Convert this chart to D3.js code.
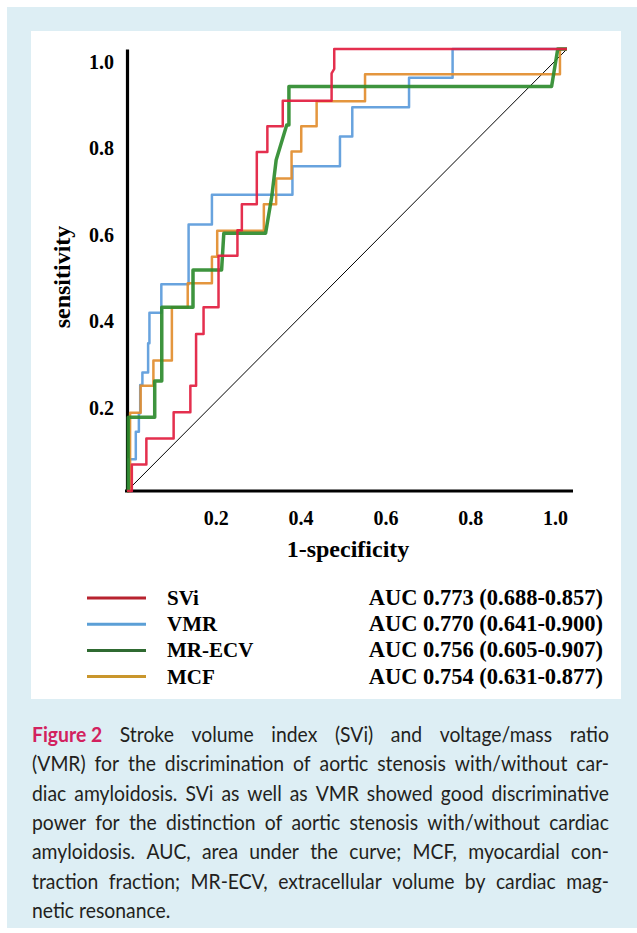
<!DOCTYPE html>
<html>
<head>
<meta charset="utf-8">
<script src="https://cdn.jsdelivr.net/npm/d3@7"></script>
<style>
body { margin: 0; background: #fff; }
svg { display: block; }
.serif { font-family: "Liberation Serif", "Times New Roman", serif; font-weight: bold; fill: #000; }
</style>
</head>
<body>
<svg id="canvas" width="637" height="933"></svg>
<script>
// ROC vertices (1-specificity, sensitivity)
var sviFpr = [0, 0.011, 0.011, 0.044, 0.044, 0.106, 0.106, 0.144, 0.144, 0.157, 0.157, 0.174, 0.174, 0.208, 0.208, 0.251, 0.251, 0.261, 0.261, 0.295, 0.295, 0.319, 0.319, 0.354, 0.354, 0.465, 0.465, 0.471, 0.471, 1];
var sviTpr = [0, 0, 0.060, 0.060, 0.119, 0.119, 0.178, 0.178, 0.238, 0.238, 0.355, 0.355, 0.416, 0.416, 0.532, 0.532, 0.590, 0.590, 0.649, 0.649, 0.767, 0.767, 0.825, 0.825, 0.883, 0.883, 0.945, 0.955, 1, 1];

var vmrFpr = [0, 0.004, 0.004, 0.020, 0.020, 0.027, 0.027, 0.030, 0.030, 0.035, 0.035, 0.048, 0.048, 0.051, 0.051, 0.078, 0.078, 0.140, 0.140, 0.193, 0.193, 0.376, 0.376, 0.484, 0.484, 0.512, 0.512, 0.641, 0.641, 0.740, 0.740, 1];
var vmrTpr = [0, 0, 0.072, 0.072, 0.134, 0.134, 0.176, 0.176, 0.240, 0.240, 0.268, 0.268, 0.334, 0.334, 0.403, 0.403, 0.468, 0.468, 0.603, 0.603, 0.670, 0.670, 0.735, 0.735, 0.802, 0.802, 0.868, 0.868, 0.935, 0.935, 1, 1];

var ecvFpr = [0, 0.003, 0.003, 0.063, 0.063, 0.079, 0.079, 0.150, 0.150, 0.215, 0.220, 0.315, 0.329, 0.339, 0.363, 0.368, 0.368, 0.965, 0.979, 1];
var ecvTpr = [0, 0, 0.167, 0.167, 0.249, 0.249, 0.416, 0.416, 0.500, 0.500, 0.583, 0.583, 0.666, 0.749, 0.828, 0.828, 0.915, 0.915, 1, 1];

var mcfFpr = [0, 0.007, 0.007, 0.031, 0.031, 0.060, 0.060, 0.102, 0.102, 0.138, 0.138, 0.193, 0.193, 0.205, 0.205, 0.311, 0.311, 0.339, 0.339, 0.374, 0.374, 0.396, 0.396, 0.431, 0.431, 0.541, 0.541, 0.984, 0.984, 1];
var mcfTpr = [0, 0, 0.177, 0.177, 0.238, 0.238, 0.295, 0.295, 0.416, 0.416, 0.470, 0.470, 0.530, 0.530, 0.589, 0.589, 0.649, 0.649, 0.707, 0.707, 0.768, 0.768, 0.825, 0.825, 0.882, 0.882, 0.943, 0.943, 1, 1];

var seriesNames = ["SVi", "VMR", "MR-ECV", "MCF"];
var aucLabels = ["AUC 0.773 (0.688-0.857)", "AUC 0.770 (0.641-0.900)", "AUC 0.756 (0.605-0.907)", "AUC 0.754 (0.631-0.877)"];
var xTicks = [0.2, 0.4, 0.6, 0.8, 1.0];
var yTicks = [0.2, 0.4, 0.6, 0.8, 1.0];

var captionLead = "Figure 2";
var captionLines = [
    "Stroke volume index (SVi) and voltage/mass ratio",
    "(VMR) for the discrimination of aortic stenosis with/without car-",
    "diac amyloidosis. SVi as well as VMR showed good discriminative",
    "power for the distinction of aortic stenosis with/without cardiac",
    "amyloidosis. AUC, area under the curve; MCF, myocardial con-",
    "traction fraction; MR-ECV, extracellular volume by cardiac mag-",
    "netic resonance."
];

var lineColors = ["#e21d3f", "#5b9bdb", "#2e8b2e", "#e28d2e"];
var legendColors = ["#b8232f", "#5b9fd6", "#2f6a31", "#c9962c"];
var lineWidths = [2.5, 2.5, 3.5, 2.5];

var svg = d3.select("#canvas");

// backgrounds
svg.append("rect").attr("x", 7).attr("y", 7).attr("width", 630).attr("height", 921).attr("fill", "#ddeef4");
svg.append("rect").attr("x", 31).attr("y", 31).attr("width", 590).attr("height", 668).attr("fill", "#fff");

var x = d3.scaleLinear().domain([0, 1]).range([127, 567]);
var y = d3.scaleLinear().domain([0, 1]).range([491, 49]);
// tick labels in the figure sit on their own spacing
var xLab = d3.scaleLinear().domain([0, 1]).range([131, 555]);
var yLab = d3.scaleLinear().domain([0, 1]).range([494, 62]);

// axis lines
svg.append("g")
    .attr("transform", "translate(0,491)")
    .call(d3.axisBottom(x).tickValues([]).tickSizeOuter(0))
    .select(".domain").attr("stroke", "#000").attr("stroke-width", 3.2)
    .attr("d", "M" + (x(0) - 2) + ",0H" + (x(1) + 6));

svg.append("g")
    .attr("transform", "translate(127,0)")
    .call(d3.axisLeft(y).tickValues([]).tickSizeOuter(0))
    .select(".domain").attr("stroke", "#000").attr("stroke-width", 3.2);

// tick labels
var gx = svg.append("g")
    .attr("transform", "translate(0,491)")
    .call(d3.axisBottom(xLab).tickValues(xTicks).tickFormat(d3.format(".1f")).tickSize(0).tickPadding(20));
gx.select(".domain").remove();
gx.selectAll("text").attr("class", "serif").style("font-size", "20px");

var gy = svg.append("g")
    .attr("transform", "translate(127,0)")
    .call(d3.axisLeft(yLab).tickValues(yTicks).tickFormat(d3.format(".1f")).tickSize(0).tickPadding(13));
gy.select(".domain").remove();
gy.selectAll("text").attr("class", "serif").style("font-size", "20px");

svg.append("text")
    .attr("class", "serif")
    .attr("x", 348).attr("y", 557)
    .attr("text-anchor", "middle")
    .style("font-size", "24px")
    .text("1-specificity");

svg.append("text")
    .attr("class", "serif")
    .attr("transform", "translate(70,277) rotate(-90)")
    .attr("text-anchor", "middle")
    .style("font-size", "24px")
    .text("sensitivity");

// reference diagonal
svg.append("line")
    .attr("x1", x(0)).attr("y1", y(0))
    .attr("x2", x(1)).attr("y2", y(1))
    .attr("stroke", "#000").attr("stroke-width", 1);

// ROC curves
var curves = [
    {fpr: sviFpr, tpr: sviTpr},
    {fpr: vmrFpr, tpr: vmrTpr},
    {fpr: ecvFpr, tpr: ecvTpr},
    {fpr: mcfFpr, tpr: mcfTpr}
];

var roc = d3.line()
    .x(function(d) { return x(d[0]); })
    .y(function(d) { return y(d[1]); });

// draw order: VMR, MCF, MR-ECV, SVi
[1, 3, 2, 0].forEach(function(i) {
    var pts = d3.zip(curves[i].fpr, curves[i].tpr);
    svg.append("path")
        .attr("d", roc(pts))
        .attr("fill", "none")
        .attr("stroke", lineColors[i])
        .attr("stroke-width", lineWidths[i])
        .attr("stroke-linejoin", "round")
        .attr("stroke-opacity", 0.92);
});

// legend
var legend = svg.append("g");
seriesNames.forEach(function(name, i) {
    var ly = 598 + i * 26.2;
    legend.append("line")
        .attr("x1", 87).attr("x2", 146)
        .attr("y1", ly).attr("y2", ly)
        .attr("stroke", legendColors[i]).attr("stroke-width", 3);
    legend.append("text")
        .attr("class", "serif")
        .attr("x", 167).attr("y", ly + 7)
        .style("font-size", "21px")
        .text(name);
    legend.append("text")
        .attr("class", "serif")
        .attr("x", 603).attr("y", ly + 7)
        .attr("text-anchor", "end")
        .style("font-size", "22.5px")
        .text(aucLabels[i]);
});

// caption, justified word by word; glyphs narrowed a little to mimic the journal face
var capLeft = 32, capRight = 609, capFont = "Lato, 'Open Sans', sans-serif", capScale = 0.9;
var probe = svg.append("text").attr("x", -999).attr("y", -999).style("font-family", capFont);
function measure(str, weight, size) {
    probe.style("font-weight", weight).style("font-size", size + "px").text(str);
    return probe.node().getComputedTextLength() * capScale;
}
var natural = captionLines.slice(0, -1).map(function(line, i) {
    var s = (i === 0 ? captionLead + " " : "") + line;
    return measure(s, "normal", 20);
});
var capSize = Math.min(21.5, 20 * (capRight - capLeft) / d3.max(natural));

var cap = svg.append("g").style("font-family", capFont).style("font-size", capSize + "px");
captionLines.forEach(function(line, i) {
    var words = line.split(" ");
    var items = words.map(function(w) { return {t: w, lead: false}; });
    if (i === 0) items.unshift({t: captionLead, lead: true});
    items.forEach(function(it) { it.w = measure(it.t, it.lead ? "bold" : "normal", capSize); });
    var total = d3.sum(items, function(it) { return it.w; });
    var last = i === captionLines.length - 1;
    var gap = last ? measure("a a", "normal", capSize) - 2 * measure("a", "normal", capSize)
                   : (capRight - capLeft - total) / (items.length - 1);
    var cx = capLeft;
    var by = 742 + i * 29.3;
    items.forEach(function(it) {
        cap.append("text")
            .attr("transform", "translate(" + cx + "," + by + ") scale(" + capScale + ",1)")
            .style("font-weight", it.lead ? "bold" : "normal")
            .attr("fill", it.lead ? "#d2215e" : "#231f20")
            .text(it.t);
        cx += it.w + gap;
    });
});
probe.remove();
</script>
</body>
</html>
